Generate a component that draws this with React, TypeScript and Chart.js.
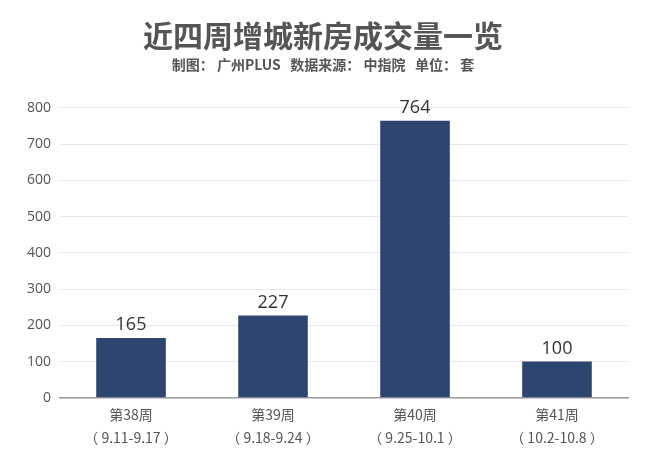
import React, { useEffect, useRef } from "react";
import { Chart, registerables } from "chart.js";

Chart.register(...registerables);

const categories: string[][] = [
  ["第38周", "（ 9.11-9.17 ）"],
  ["第39周", "（ 9.18-9.24 ）"],
  ["第40周", "（ 9.25-10.1 ）"],
  ["第41周", "（ 10.2-10.8 ）"],
];
const values: number[] = [165, 227, 764, 100];
const yTicks: number[] = [0, 100, 200, 300, 400, 500, 600, 700, 800];
const titleText = "近四周增城新房成交量一览";
const subtitleText = "制图： 广州PLUS   数据来源： 中指院   单位： 套";

const FONT = "'Open Sans', 'Noto Sans CJK SC', sans-serif";
const CJK = "'Noto Sans CJK SC', 'Open Sans', sans-serif";

const valueLabels = {
  id: "valueLabels",
  afterDatasetsDraw(chart: any) {
    const ctx = chart.ctx;
    const meta = chart.getDatasetMeta(0);
    ctx.save();
    ctx.font = `18px ${FONT}`;
    ctx.fillStyle = "#333333";
    ctx.textAlign = "center";
    ctx.textBaseline = "bottom";
    meta.data.forEach((bar: any, i: number) => {
      ctx.fillText(String(values[i]), bar.x, bar.y - 4);
    });
    ctx.restore();
  },
};

export default function App() {
  const ref = useRef<HTMLCanvasElement | null>(null);
  useEffect(() => {
    if (!ref.current) return;
    const chart = new Chart(ref.current, {
      type: "bar",
      data: {
        labels: categories,
        datasets: [
          {
            data: values,
            backgroundColor: "#2e4570",
            barPercentage: 0.49,
            categoryPercentage: 1,
          },
        ],
      },
      options: {
        animation: false,
        responsive: true,
        maintainAspectRatio: false,
        layout: { padding: { left: 18, right: 32, top: 0, bottom: 2 } },
        plugins: {
          legend: { display: false },
          tooltip: { enabled: false },
          title: {
            display: true,
            text: titleText,
            color: "#555555",
            font: { family: CJK, size: 30, weight: "bold" },
            padding: { top: 18, bottom: 2 },
          },
          subtitle: {
            display: true,
            text: subtitleText,
            color: "#555555",
            font: { family: CJK, size: 14, weight: "bold" },
            padding: { top: 0, bottom: 35 },
          },
        },
        scales: {
          x: {
            grid: { display: false, drawTicks: false },
            border: { color: "#999999", width: 1.5 },
            ticks: {
              color: "#555555",
              font: { family: CJK, size: 14, lineHeight: 1.65 },
              padding: 5,
            },
          },
          y: {
            min: 0,
            max: 800,
            afterBuildTicks: (axis: any) => {
              axis.ticks = yTicks.map((v) => ({ value: v }));
            },
            grid: { color: "#e8e8e8", drawTicks: false },
            border: { display: false },
            ticks: {
              color: "#555555",
              font: { family: FONT, size: 14 },
              padding: 9,
            },
          },
        },
      },
      plugins: [valueLabels],
    });
    return () => chart.destroy();
  }, []);
  return (
    <div style={{ position: "fixed", left: 0, top: 0, width: 660, height: 456, background: "#ffffff" }}>
      <canvas ref={ref} />
    </div>
  );
}
